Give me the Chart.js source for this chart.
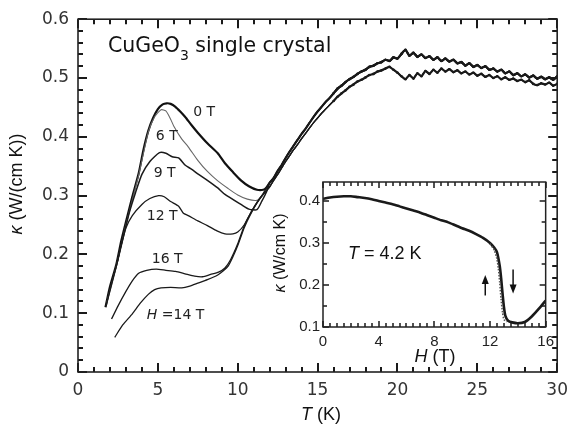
<!DOCTYPE html>
<html>
<head>
<meta charset="utf-8">
<script src="https://cdn.jsdelivr.net/npm/chart.js@4/dist/chart.umd.min.js"></script>
<style>
  body { margin: 0; background: #fff; }
  #wrap { position: relative; width: 576px; height: 428px; }
  #main { position: absolute; left: 0; top: 0; }
  #inset { position: absolute; left: 270px; top: 170px; }
</style>
</head>
<body>
<div id="wrap">
  <canvas id="main" width="576" height="428"></canvas>
  <canvas id="inset" width="290" height="200"></canvas>
</div>
<script>
// ---- main panel data: kappa (W/cm K) vs T (K) ----
const t0 = [1.72, 2.0, 2.4, 2.7, 3.0, 3.4, 3.8, 4.1, 4.4, 4.7, 5.0, 5.3, 5.55, 5.8, 6.1, 6.4, 6.7, 7.1, 7.5, 8.1, 8.75, 9.2, 9.7, 10.2, 10.7, 11.2, 11.6, 11.8];
const k0 = [0.110, 0.145, 0.183, 0.222, 0.255, 0.298, 0.338, 0.378, 0.410, 0.432, 0.447, 0.455, 0.457, 0.456, 0.451, 0.443, 0.434, 0.420, 0.407, 0.389, 0.372, 0.355, 0.340, 0.326, 0.316, 0.310, 0.310, 0.314];

const t6 = [1.8, 2.4, 3.0, 3.8, 4.4, 4.8, 5.2, 5.5, 5.8, 6.0, 6.5, 6.9, 7.5, 8.1, 8.75, 9.4, 10.0, 10.6, 11.2, 11.6];
const k6 = [0.118, 0.180, 0.250, 0.335, 0.408, 0.434, 0.446, 0.444, 0.430, 0.418, 0.396, 0.383, 0.360, 0.341, 0.325, 0.312, 0.301, 0.294, 0.292, 0.302];

const t9 = [1.75, 2.4, 2.8, 3.2, 3.6, 4.0, 4.5, 5.1, 5.5, 5.9, 6.3, 6.7, 7.1, 7.5, 8.1, 8.75, 9.2, 10.2, 10.7, 11.2, 11.5, 11.8];
const k9 = [0.112, 0.180, 0.225, 0.270, 0.305, 0.336, 0.358, 0.373, 0.372, 0.366, 0.364, 0.352, 0.345, 0.337, 0.326, 0.313, 0.302, 0.285, 0.277, 0.276, 0.290, 0.306];

const t12 = [2.45, 2.7, 3.0, 3.4, 4.0, 4.5, 5.05, 5.4, 5.8, 6.3, 6.6, 6.9, 7.5, 8.1, 8.7, 9.2, 9.7, 10.0, 10.4, 10.8, 11.2, 11.6];
const k12 = [0.185, 0.215, 0.245, 0.266, 0.285, 0.295, 0.300, 0.298, 0.290, 0.282, 0.270, 0.266, 0.257, 0.249, 0.240, 0.235, 0.235, 0.238, 0.250, 0.270, 0.288, 0.303];

const t16 = [2.1, 2.5, 3.0, 3.4, 3.8, 4.3, 4.9, 5.5, 6.1, 6.7, 7.3, 7.8, 8.3, 8.8, 9.2, 9.55, 10.0, 10.4, 10.8, 11.2, 11.6];
const k16 = [0.090, 0.112, 0.137, 0.155, 0.168, 0.173, 0.175, 0.173, 0.171, 0.167, 0.163, 0.162, 0.166, 0.170, 0.177, 0.191, 0.218, 0.248, 0.270, 0.288, 0.304];

const t14 = [2.3, 2.8, 3.4, 3.9, 4.4, 4.8, 5.2, 5.8, 6.5, 7.0, 7.5, 8.1, 8.75, 9.1, 9.4, 9.7, 10.0, 10.4, 10.8, 11.2, 11.6];
const k14 = [0.059, 0.080, 0.099, 0.117, 0.132, 0.140, 0.143, 0.144, 0.143, 0.146, 0.151, 0.157, 0.165, 0.172, 0.180, 0.196, 0.215, 0.245, 0.268, 0.287, 0.302];

// common high-T part (all fields merge), two noisy bands
const tailT = [12, 12.25, 12.5, 12.75, 13, 13.25, 13.5, 13.75, 14, 14.25, 14.5, 14.75,
  15, 15.25, 15.5, 15.75, 16, 16.25, 16.5, 16.75, 17, 17.25, 17.5, 17.75,
  18, 18.25, 18.5, 18.75, 19, 19.25, 19.5, 19.75, 20, 20.25, 20.5, 20.75,
  21, 21.25, 21.5, 21.75, 22, 22.25, 22.5, 22.75, 23, 23.25, 23.5, 23.75,
  24, 24.25, 24.5, 24.75, 25, 25.25, 25.5, 25.75, 26, 26.25, 26.5, 26.75,
  27, 27.25, 27.5, 27.75, 28, 28.25, 28.5, 28.75, 29, 29.25, 29.5, 29.75, 30];
const tailUpper = [0.322, 0.330, 0.342, 0.352, 0.364, 0.375, 0.385, 0.395, 0.405, 0.414, 0.424, 0.434,
  0.443, 0.451, 0.459, 0.466, 0.474, 0.482, 0.487, 0.493, 0.498, 0.502, 0.507, 0.511,
  0.514, 0.519, 0.521, 0.525, 0.527, 0.531, 0.529, 0.535, 0.533, 0.541, 0.548, 0.538,
  0.543, 0.536, 0.540, 0.534, 0.537, 0.531, 0.535, 0.529, 0.533, 0.528, 0.531, 0.525,
  0.527, 0.521, 0.525, 0.519, 0.522, 0.517, 0.520, 0.514, 0.516, 0.511, 0.514, 0.508,
  0.511, 0.505, 0.508, 0.503, 0.506, 0.501, 0.504, 0.499, 0.502, 0.498, 0.501, 0.497, 0.503];
const tailLower = [0.315, 0.326, 0.336, 0.347, 0.358, 0.368, 0.378, 0.387, 0.397, 0.406, 0.415, 0.424,
  0.432, 0.440, 0.447, 0.454, 0.461, 0.468, 0.474, 0.479, 0.485, 0.489, 0.494, 0.497,
  0.501, 0.505, 0.507, 0.511, 0.513, 0.516, 0.519, 0.514, 0.509, 0.503, 0.498, 0.505,
  0.499, 0.508, 0.503, 0.512, 0.507, 0.514, 0.509, 0.516, 0.511, 0.515, 0.510, 0.513,
  0.508, 0.511, 0.506, 0.509, 0.504, 0.507, 0.502, 0.505, 0.500, 0.503, 0.498, 0.501,
  0.497, 0.499, 0.495, 0.497, 0.493, 0.496, 0.490, 0.488, 0.491, 0.489, 0.492, 0.487, 0.490];

const xTicks = [0, 5, 10, 15, 20, 25, 30];
const yTicks = [0, 0.1, 0.2, 0.3, 0.4, 0.5, 0.6];

// curve labels [parts, T, kappa]
const curveLabels = [
  [[["0 T", false]], 7.21, 0.442],
  [[["6 T", false]], 4.87, 0.400],
  [[["9 T", false]], 4.74, 0.337],
  [[["12 T", false]], 4.31, 0.265],
  [[["16 T", false]], 4.62, 0.191],
  [[["H", true], [" =14 T", false]], 4.31, 0.0955],
];

// ---- inset data: kappa vs H at T = 4.2 K ----
const insetH = [0, 0.5, 1, 1.5, 2, 2.5, 3, 3.5, 4, 4.5, 5, 5.5, 6, 6.5, 7, 7.5, 8, 8.5, 9, 9.5,
  10, 10.5, 11, 11.5, 12, 12.3, 12.5, 12.7, 12.8, 12.9, 13.0, 13.1, 13.3, 13.6, 14, 14.5, 15, 15.5, 16];
const insetK = [0.405, 0.408, 0.410, 0.411, 0.411, 0.409, 0.407, 0.404, 0.400, 0.396, 0.392, 0.387, 0.382, 0.377, 0.372, 0.366, 0.360, 0.354, 0.349, 0.342,
  0.335, 0.329, 0.321, 0.312, 0.300, 0.289, 0.278, 0.245, 0.216, 0.180, 0.148, 0.127, 0.115, 0.111, 0.109, 0.112, 0.125, 0.143, 0.163];
const sweepH = [12.0, 12.3, 12.5, 12.6, 12.7, 12.8, 12.9, 13.0, 13.2];
const sweepK = [0.298, 0.283, 0.262, 0.240, 0.205, 0.165, 0.135, 0.118, 0.112];
const insetXTicks = [0, 4, 8, 12, 16];
const insetYTicks = [0.1, 0.2, 0.3, 0.4];
// arrows [H, from, to]
const insetArrows = [[11.66, 0.175, 0.224], [13.66, 0.237, 0.180]];

function pts(xs, ys) {
  return xs.map((x, i) => ({ x: x, y: ys[i] }));
}
function curve(tLow, kLow, tail) {
  return pts(tLow.concat(tailT), kLow.concat(tail));
}

const SANS = '"DejaVu Sans", sans-serif';
const ARIAL = '"Liberation Sans", Arial, sans-serif';

function drawParts(ctx, parts, x, y, size, family, align) {
  const widths = parts.map(([t, it]) => {
    ctx.font = (it ? "italic " : "") + size + "px " + family;
    return ctx.measureText(t).width;
  });
  const total = widths.reduce((a, b) => a + b, 0);
  let cx = align === "center" ? x - total / 2 : x;
  ctx.textAlign = "left";
  parts.forEach(([t, it], i) => {
    ctx.font = (it ? "italic " : "") + size + "px " + family;
    ctx.fillText(t, cx, y);
    cx += widths[i];
  });
}

function steps(min, max, step) {
  const out = [];
  const n = Math.round((max - min) / step);
  for (let i = 0; i <= n + 1; i++) {
    const v = min + i * step;
    if (v <= max + 1e-9) out.push(v);
  }
  return out;
}

// frame with inward ticks on all four sides
function frameTicks(o) {
  return {
    id: "frameTicks",
    afterDraw(chart) {
      const { ctx, chartArea: a, scales } = chart;
      const xs = scales.x, ys = scales.y;
      ctx.save();
      ctx.strokeStyle = "#1a1a1a";
      ctx.lineWidth = o.tickWidth;
      ctx.beginPath();
      steps(o.xMin, xs.max, o.xMinor).forEach((v) => {
        const r = v / o.xMajor;
        const len = Math.abs(r - Math.round(r)) < 1e-6 ? o.major : o.minor;
        const px = Math.round(xs.getPixelForValue(v));
        ctx.moveTo(px, a.bottom); ctx.lineTo(px, a.bottom - len);
        ctx.moveTo(px, a.top); ctx.lineTo(px, a.top + len);
      });
      steps(o.yMin, ys.max, o.yMinor).forEach((v) => {
        const r = v / o.yMajor;
        const len = Math.abs(r - Math.round(r)) < 1e-6 ? o.major : o.minor;
        const py = Math.round(ys.getPixelForValue(v));
        ctx.moveTo(a.left, py); ctx.lineTo(a.left + len, py);
        ctx.moveTo(a.right, py); ctx.lineTo(a.right - len, py);
      });
      ctx.stroke();
      ctx.strokeStyle = "#222";
      ctx.lineWidth = o.frame;
      ctx.strokeRect(a.left, a.top, a.right - a.left, a.bottom - a.top);
      ctx.restore();
    },
  };
}

const mainText = {
  id: "mainText",
  afterDraw(chart) {
    const { ctx, scales } = chart;
    ctx.save();
    ctx.fillStyle = "#222";
    ctx.textBaseline = "middle";
    curveLabels.forEach(([parts, t, k]) => {
      drawParts(ctx, parts, scales.x.getPixelForValue(t), scales.y.getPixelForValue(k), 14, SANS, "left");
    });
    ctx.fillStyle = "#111";
    ctx.textBaseline = "alphabetic";
    drawParts(ctx, [["CuGeO", false]], 108, 52, 20.5, SANS, "left");
    ctx.font = "20.5px " + SANS;
    let w = ctx.measureText("CuGeO").width;
    ctx.font = "14px " + SANS;
    ctx.fillText("3", 108 + w, 60);
    w += ctx.measureText("3").width;
    drawParts(ctx, [[" single crystal", false]], 108 + w, 52, 20.5, SANS, "left");
    ctx.textBaseline = "middle";
    drawParts(ctx, [["T", true], [" (K)", false]], 321, 415, 18, ARIAL, "center");
    ctx.translate(17, 184);
    ctx.rotate(-Math.PI / 2);
    drawParts(ctx, [["\u03ba", true], [" (W/(cm K))", false]], 0, 0, 18, ARIAL, "center");
    ctx.restore();
  },
};

const insetText = {
  id: "insetText",
  beforeDatasetsDraw(chart) {
    const { ctx, chartArea: a } = chart;
    ctx.save();
    ctx.fillStyle = "#fff";
    ctx.fillRect(a.left, a.top, a.right - a.left, a.bottom - a.top);
    ctx.restore();
  },
  afterDraw(chart) {
    const { ctx, scales } = chart;
    ctx.save();
    ctx.fillStyle = "#111";
    ctx.strokeStyle = "#111";
    ctx.textBaseline = "middle";
    drawParts(ctx, [["T", true], [" = 4.2 K", false]], scales.x.getPixelForValue(1.8), scales.y.getPixelForValue(0.274), 18, ARIAL, "left");
    drawParts(ctx, [["H", true], [" (T)", false]], 165, 187, 18, ARIAL, "center");
    insetArrows.forEach(([h, from, to]) => {
      const x = scales.x.getPixelForValue(h);
      const y1 = scales.y.getPixelForValue(from);
      const y2 = scales.y.getPixelForValue(to);
      const dir = y2 < y1 ? 1 : -1;
      ctx.lineWidth = 1.5;
      ctx.beginPath();
      ctx.moveTo(x, y1);
      ctx.lineTo(x, y2 + dir * 4);
      ctx.stroke();
      ctx.beginPath();
      ctx.moveTo(x, y2);
      ctx.lineTo(x - 3.5, y2 + dir * 9);
      ctx.lineTo(x + 3.5, y2 + dir * 9);
      ctx.closePath();
      ctx.fill();
    });
    ctx.translate(11, 83);
    ctx.rotate(-Math.PI / 2);
    drawParts(ctx, [["\u03ba", true], [" (W/cm K)", false]], 0, 0, 16, ARIAL, "center");
    ctx.restore();
  },
};

// noisy high-T data is drawn as a speckled band (thicker line + dots)
function line(data, color, width, dash, speckle) {
  return {
    data: data,
    showLine: true,
    borderColor: color,
    backgroundColor: color,
    borderWidth: width,
    borderDash: dash || [],
    pointRadius: (c) => (speckle && c.raw && c.raw.x >= 16 ? 1.3 : 0),
    pointBorderWidth: 0,
    segment: speckle ? { borderWidth: (c) => (c.p0.parsed.x >= 16 ? 2.2 : width) } : {},
    tension: 0.2,
    fill: false,
  };
}

new Chart(document.getElementById("main"), {
  type: "scatter",
  data: {
    datasets: [
      line(curve(t14, k14, tailLower), "#1a1a1a", 1.3, null, true),
      line(curve(t16, k16, tailUpper), "#1a1a1a", 1.3, null, true),
      line(curve(t12, k12, tailLower), "#1a1a1a", 1.3),
      line(curve(t9, k9, tailUpper), "#1a1a1a", 1.5),
      line(curve(t6, k6, tailLower), "#666", 1.1),
      line(curve(t0, k0, tailUpper), "#111", 2.2),
    ],
  },
  options: {
    responsive: false,
    animation: false,
    layout: { padding: { left: 0, right: 11, top: 14, bottom: 0 } },
    plugins: { legend: { display: false }, tooltip: { enabled: false } },
    scales: {
      x: {
        type: "linear", min: 0, max: 30,
        afterBuildTicks: (s) => { s.ticks = xTicks.map((v) => ({ value: v })); },
        afterFit: (s) => { s.height = 56; },
        grid: { display: false, drawTicks: false },
        border: { display: false },
        ticks: { color: "#333", padding: 8, font: { family: SANS, size: 17 } },
      },
      y: {
        type: "linear", min: 0, max: 0.6,
        afterBuildTicks: (s) => { s.ticks = yTicks.map((v) => ({ value: v })); },
        afterFit: (s) => { s.width = 78; },
        grid: { display: false, drawTicks: false },
        border: { display: false },
        ticks: {
          color: "#333", padding: 9, font: { family: SANS, size: 17 },
          callback: (v) => (v === 0 ? "0" : v.toFixed(1)),
        },
      },
    },
  },
  plugins: [frameTicks({ xMin: 0, xMinor: 1, xMajor: 5, yMin: 0, yMinor: 0.02, yMajor: 0.1, major: 9, minor: 5, frame: 1.6, tickWidth: 2 }), mainText],
});

new Chart(document.getElementById("inset"), {
  type: "scatter",
  data: {
    datasets: [
      line(pts(sweepH, sweepK), "#555", 1.6, [1.5, 1.5]),
      line(pts(insetH, insetK), "#1a1a1a", 2.6),
    ],
  },
  options: {
    responsive: false,
    animation: false,
    layout: { padding: { left: 0, right: 12, top: 9, bottom: 0 } },
    plugins: { legend: { display: false }, tooltip: { enabled: false } },
    scales: {
      x: {
        type: "linear", min: 0, max: 16,
        afterBuildTicks: (s) => { s.ticks = insetXTicks.map((v) => ({ value: v })); },
        afterFit: (s) => { s.height = 43; },
        grid: { display: false, drawTicks: false },
        border: { display: false },
        ticks: { color: "#222", padding: 6, font: { family: ARIAL, size: 15 } },
      },
      y: {
        type: "linear", min: 0.1, max: 0.445,
        afterBuildTicks: (s) => { s.ticks = insetYTicks.map((v) => ({ value: v })); },
        afterFit: (s) => { s.width = 53; },
        grid: { display: false, drawTicks: false },
        border: { display: false },
        ticks: {
          color: "#222", padding: 3, font: { family: ARIAL, size: 15 },
          callback: (v) => v.toFixed(1),
        },
      },
    },
  },
  plugins: [frameTicks({ xMin: 0, xMinor: 0.5, xMajor: 4, yMin: 0.1, yMinor: 0.05, yMajor: 0.1, major: 6, minor: 4, frame: 1.5, tickWidth: 1.5 }), insetText],
});
</script>
</body>
</html>
